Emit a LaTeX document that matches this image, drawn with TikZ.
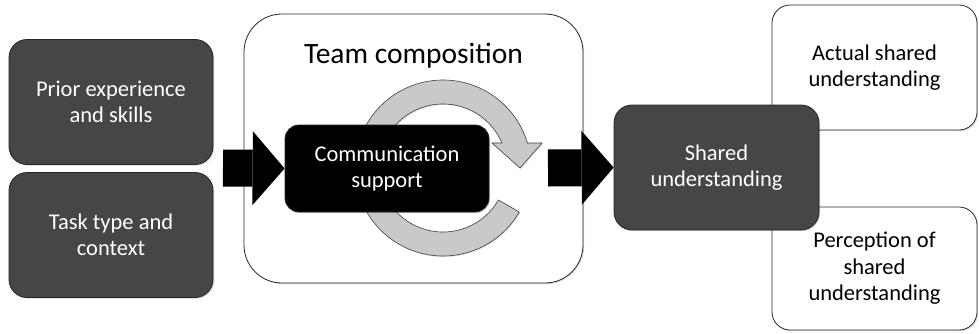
\documentclass[tikz,border=0pt]{standalone}
\usepackage{fontspec}
\setmainfont{Carlito}
\usetikzlibrary{arrows.meta, shadows}

\definecolor{boxgray}{RGB}{70,70,70}
\definecolor{ringgray}{RGB}{201,201,201}

\begin{document}
\begin{tikzpicture}[x=1pt, y=1pt,
    box/.style={draw=black!85, line width=0.8pt, rounded corners=18pt, align=center, inner sep=0pt,
      minimum width=204pt, minimum height=125pt, font=\fontsize{22.5}{26.5}\selectfont,
      drop shadow={shadow xshift=1.2pt, shadow yshift=-1.2pt, opacity=0.3}},
    darkbox/.style={box, fill=boxgray, text=white},
    whitebox/.style={box, fill=white},
    bigarrow/.style={line width=37pt, -{Triangle[length=32pt, width=74pt, line width=0pt]}}]
  \useasboundingbox (0,0) rectangle (979,333);

  % inputs on the left
  \node[darkbox] (prior) at (111,231) {Prior experience\\and skills};
  \node[darkbox] (task) at (111,98) {Task type and\\context};

  % team composition frame with the loop inside
  \node[whitebox, minimum width=339pt, minimum height=269pt, rounded corners=38pt] (team) at (413.5,184.5) {};
  \node[anchor=base, font=\fontsize{29.5}{35}\selectfont] (teamtitle) at (413.5,270) {Team composition};
  \coordinate (loop) at (443,165);
  \draw[fill=ringgray, draw=black!75, line width=0.6pt, shift={(loop)},
      drop shadow={shadow xshift=1pt, shadow yshift=-1pt, opacity=0.25}]
    (330:88) arc[start angle=330, end angle=16.5, radius=88] -- (99,25) -- (77,0) -- (49,25)
    -- (23:64) arc[start angle=23, end angle=330, radius=64] -- cycle;
  \node[box, fill=black, text=white, minimum height=87pt, rounded corners=14pt] (comm) at (387,164.5) {Communication\\support};

  % outcome side
  \node[whitebox, minimum width=205pt] (actual) at (874.5,265.5) {Actual shared\\understanding};
  \node[whitebox, minimum width=205pt, minimum height=123pt] (percep) at (874.5,64.5) {Perception of\\shared\\understanding};
  \node[darkbox, minimum width=205pt] (shared) at (716.5,165.5) {Shared\\understanding};

  % block arrows
  \coordinate (in1) at (223,165);
  \coordinate (in2) at (548,165);
  \draw[bigarrow] (in1) -- (comm.west);
  \draw[bigarrow] (in2) -- (shared.west);
\end{tikzpicture}
\end{document}
